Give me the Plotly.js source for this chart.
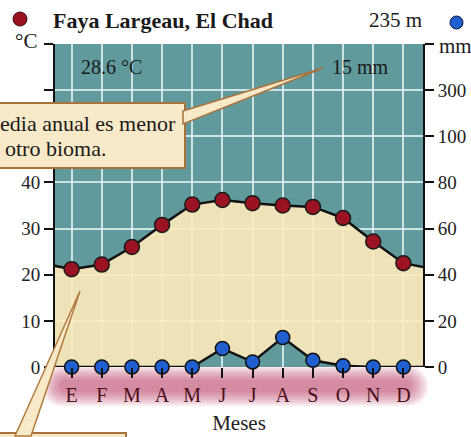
<!DOCTYPE html>
<html><head><meta charset="utf-8">
<script src="https://cdn.plot.ly/plotly-3.0.1.min.js"></script>
<style>html,body{margin:0;padding:0;background:#fff;}#chart{width:471px;height:437px;}</style>
</head><body><div id="chart"></div>
<script>
// ---- data ----
const months = ['E','F','M','A','M','J','J','A','S','O','N','D'];
const monthNums = [1,2,3,4,5,6,7,8,9,10,11,12];
const tempC = [21.2,22.2,26.0,30.8,35.2,36.2,35.5,35.0,34.7,32.3,27.2,22.5];
const precipMM = [0,0,0,0,0,8,2.2,12.8,2.9,0.5,0,0];
const tempTickVals = [0,10,20,30,40,50,60,70];
const tempTickText = ['0','10','20','30','40','','',''];
const precipTickVals = [0,20,40,60,80,100,120,140];
const precipTickText = ['0','20','40','60','80','100','300',''];
const stationName = 'Faya Largeau, El Chad';
const altitude = '235 m';
const meanTemp = '28.6 °C';
const annualPrecip = '15 mm';
const calloutTop = ['edia anual es menor', 'otro bioma.'];

// ---- layout helpers ----
const W = 471, H = 437;
const M = {l:55, r:48, t:44, b:70};
const PW = W - M.l - M.r, PH = H - M.t - M.b;
const px = p => (p - M.l) / PW;
const py = p => (H - M.b - p) / PH;
const P = (x, y) => px(x).toFixed(4) + ',' + py(y).toFixed(4);
const SERIF = '"Liberation Serif", "Times New Roman", serif';

const TEAL = '#619a9c';
const BEIGE_FILL = 'rgba(253,234,187,0.9)';
const GRID = 'rgba(235,248,248,0.78)';
const BOX_FILL = '#f8e9c8';
const BOX_LINE = '#a8733a';

// wrap-around so the curves run to the plot edges (Dec before Jan, Jan after Dec)
const xWrap = [0, ...monthNums, 13];
const tWrap = [tempC[11], ...tempC, tempC[0]];
const pWrapC = [precipMM[11], ...precipMM, precipMM[0]].map(v => v / 2); // 10 °C = 20 mm

function stadium(x0, x1, yc, h) {
  const r = h / 2, k = 0.55 * r;
  return 'M' + P(x0 + r, yc - r) + ' L' + P(x1 - r, yc - r) +
    ' C' + P(x1 - r + k, yc - r) + ' ' + P(x1, yc - k) + ' ' + P(x1, yc) +
    ' C' + P(x1, yc + k) + ' ' + P(x1 - r + k, yc + r) + ' ' + P(x1 - r, yc + r) +
    ' L' + P(x0 + r, yc + r) +
    ' C' + P(x0 + r - k, yc + r) + ' ' + P(x0, yc + k) + ' ' + P(x0, yc) +
    ' C' + P(x0, yc - k) + ' ' + P(x0 + r - k, yc - r) + ' ' + P(x0 + r, yc - r) + ' Z';
}

const shapes = [];
// soft glow band behind month labels
for (let i = 0; i < 8; i++) {
  const ins = i * 2.5;
  shapes.push({type:'path', xref:'paper', yref:'paper', layer:'below',
    path: stadium(42 + ins, 428 - ins, 386, 40 - ins * 1.6),
    fillcolor:'rgb(190,60,95)', opacity:0.10, line:{width:0}});
}
// callout box top-left
shapes.push({type:'rect', xref:'paper', yref:'paper', layer:'above',
  x0:px(-6), x1:px(185), y0:py(168), y1:py(103),
  fillcolor:BOX_FILL, line:{color:BOX_LINE, width:2}});
shapes.push({type:'path', xref:'paper', yref:'paper', layer:'above',
  path:'M' + P(183, 111) + ' L' + P(323, 68) + ' L' + P(183, 124) + ' Z',
  fillcolor:BOX_FILL, line:{color:BOX_LINE, width:1.5}});
// callout bottom-left
shapes.push({type:'rect', xref:'paper', yref:'paper', layer:'above',
  x0:px(-6), x1:px(126), y0:py(450), y1:py(433),
  fillcolor:BOX_FILL, line:{color:BOX_LINE, width:2}});
shapes.push({type:'path', xref:'paper', yref:'paper', layer:'above',
  path:'M' + P(15, 436) + ' L' + P(80, 291) + ' L' + P(31, 436) + ' Z',
  fillcolor:BOX_FILL, line:{color:'#b27b3e', width:1.5}});
// legend dots in title row
shapes.push({type:'circle', xref:'paper', yref:'paper', layer:'above',
  x0:px(13), x1:px(27), y0:py(26), y1:py(12),
  fillcolor:'#9b1222', line:{color:'#3a0a0a', width:1}});
shapes.push({type:'circle', xref:'paper', yref:'paper', layer:'above',
  x0:px(450), x1:px(463), y0:py(29), y1:py(16),
  fillcolor:'#1f5fd0', line:{color:'#0a1a40', width:1}});

function ann(text, x, y, size, opts) {
  return Object.assign({text, xref:'paper', yref:'paper', x:px(x), y:py(y),
    xanchor:'center', yanchor:'middle', showarrow:false,
    font:{family:SERIF, size, color:'#1a1a1a'}}, opts || {});
}
const annotations = [
  ann('<b>' + stationName + '</b>', 51, 20, 22, {xanchor:'left'}),
  ann(altitude, 395, 20, 21),
  ann('°C', 26, 41, 21),
  ann('mm', 455, 46, 21),
  ann(meanTemp, 111, 67, 20),
  ann(annualPrecip, 360, 67, 20),
  ann(calloutTop[0], 178, 123, 22, {xanchor:'right'}),
  ann(calloutTop[1], 3, 148, 22, {xanchor:'left'})
];

const traces = [
  {x:xWrap, y:pWrapC, mode:'lines', line:{color:'#111', width:2.5}, hoverinfo:'skip', xaxis:'x', yaxis:'y'},
  {x:xWrap, y:tWrap, mode:'lines', fill:'tonexty', fillcolor:BEIGE_FILL,
   line:{color:'#111', width:2.5}, hoverinfo:'skip', xaxis:'x', yaxis:'y'},
  {x:monthNums, y:tempC, mode:'markers', cliponaxis:false,
   marker:{size:15, color:'#9b1222', line:{color:'#1a1a1a', width:1.5}}, xaxis:'x', yaxis:'y'},
  {x:monthNums, y:precipMM, mode:'markers', cliponaxis:false,
   marker:{size:14, color:'#1f5fd0', line:{color:'#111', width:1.5}}, xaxis:'x', yaxis:'y2'}
];

const axisCommon = {ticks:'outside', ticklen:9, tickwidth:2, tickcolor:'#111',
  showline:true, linecolor:'#111', linewidth:2, zeroline:false,
  tickfont:{family:SERIF, size:19, color:'#222'}};

const layout = {
  width:W, height:H, margin:M, showlegend:false,
  paper_bgcolor:'#ffffff', plot_bgcolor:TEAL,
  xaxis:{range:[0.45, 12.65], tickvals:monthNums, ticktext:months,
    showgrid:true, gridcolor:GRID, gridwidth:2, zeroline:false, showline:false,
    ticks:'outside', ticklen:10, tickwidth:2, tickcolor:'#111',
    tickfont:{family:SERIF, size:20, color:'#4a0f18'},
    title:{text:'Meses', font:{family:SERIF, size:21, color:'#222'}, standoff:10}},
  yaxis:Object.assign({range:[0,70], tickvals:tempTickVals, ticktext:tempTickText,
    showgrid:true, gridcolor:GRID, gridwidth:2}, axisCommon),
  yaxis2:Object.assign({range:[0,140], tickvals:precipTickVals, ticktext:precipTickText,
    overlaying:'y', side:'right', showgrid:false}, axisCommon),
  shapes, annotations
};

Plotly.newPlot('chart', traces, layout, {displayModeBar:false, staticPlot:true});
</script></body></html>
